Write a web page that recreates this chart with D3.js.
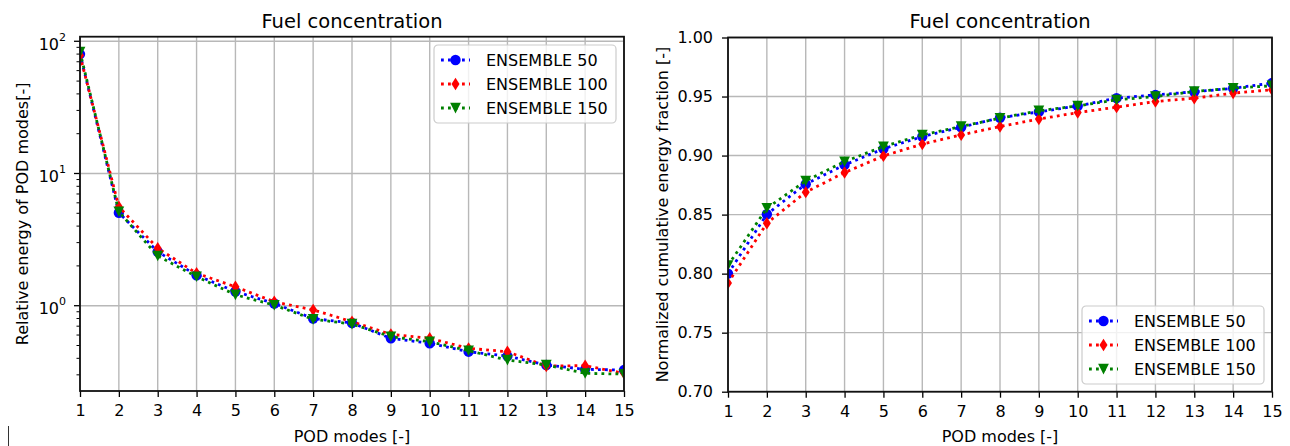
<!DOCTYPE html>
<html lang="en">
<head>
  <meta charset="UTF-8">
  <title>Fuel concentration - POD modes</title>
  <script src="https://d3js.org/d3.v7.min.js"></script>
  <style>
    body {
      margin: 0;
      background: #fff;
      font-family: "DejaVu Sans", sans-serif;
    }
    svg text {
      fill: #000;
    }
  </style>
</head>
<body>
  <svg id="chart" width="1290" height="446"></svg>

  <script>
    // ---- data ----
    const modes = [1, 2, 3, 4, 5, 6, 7, 8, 9, 10, 11, 12, 13, 14, 15];
    const seriesNames = ["ENSEMBLE 50", "ENSEMBLE 100", "ENSEMBLE 150"];

    // relative energy of each POD mode (log axis)
    const energy50  = [80, 5.05, 2.56, 1.70, 1.28, 1.04, 0.80, 0.74, 0.567, 0.52, 0.449, 0.416, 0.356, 0.33, 0.326];
    const energy100 = [78, 5.6, 2.72, 1.76, 1.39, 1.07, 0.93, 0.757, 0.607, 0.567, 0.476, 0.449, 0.35, 0.352, 0.308];
    const energy150 = [83, 5.14, 2.38, 1.66, 1.21, 1.01, 0.79, 0.727, 0.583, 0.534, 0.457, 0.388, 0.356, 0.308, 0.304];

    // normalized cumulative energy fraction
    const cum50  = [0.800, 0.8503, 0.8758, 0.8921, 0.9057, 0.9161, 0.924, 0.932, 0.937, 0.942, 0.9486, 0.9514, 0.954, 0.957, 0.9614];
    const cum100 = [0.792, 0.8427, 0.869, 0.8856, 0.8997, 0.9097, 0.9175, 0.9246, 0.9309, 0.9364, 0.941, 0.9458, 0.9486, 0.9529, 0.9557];
    const cum150 = [0.807, 0.8554, 0.8786, 0.8949, 0.9076, 0.9175, 0.9246, 0.9317, 0.9379, 0.9421, 0.9472, 0.950, 0.9542, 0.9571, 0.9591];

    const xTicks = modes;
    const logMajorTicks = [1, 10, 100];
    const cumTicks = [0.70, 0.75, 0.80, 0.85, 0.90, 0.95, 1.00];

    const colors = ["#0000ff", "#ff0000", "#008000"];
    const shapes = ["circle", "thinDiamond", "triangleDown"];

    const svg = d3.select("#chart");

    // marker paths, centred on 0,0
    function markerPath(shape) {
      if (shape === "circle") return d3.symbol(d3.symbolCircle, Math.PI * 5.2 * 5.2)();
      if (shape === "thinDiamond") return "M0,-6.2L4,0L0,6.2L-4,0Z";
      return "M-5.4,-5.2L5.4,-5.2L0,5.4Z";
    }

    function drawPanel(cfg) {
      const { left, right, top, bottom, id } = cfg;
      const g = svg.append("g");

      const x = d3.scaleLinear().domain([1, 15]).range([left, right]);
      const y = cfg.log
        ? d3.scaleLog().domain(cfg.yDomain).range([bottom, top])
        : d3.scaleLinear().domain(cfg.yDomain).range([bottom, top]);

      // clip region of the axes
      svg.append("clipPath").attr("id", "clip-" + id)
        .append("rect")
        .attr("x", left).attr("y", top)
        .attr("width", right - left).attr("height", bottom - top);

      // grid
      const grid = g.append("g").attr("stroke", "#b8b8b8").attr("stroke-width", 1.4);
      grid.selectAll("line.vx").data(xTicks).enter().append("line")
        .attr("x1", d => x(d)).attr("x2", d => x(d))
        .attr("y1", top).attr("y2", bottom);
      grid.selectAll("line.hy").data(cfg.yTicks).enter().append("line")
        .attr("x1", left).attr("x2", right)
        .attr("y1", d => y(d)).attr("y2", d => y(d));

      // series lines + markers
      const plot = g.append("g").attr("clip-path", `url(#clip-${id})`);
      const line = d3.line().x((d, i) => x(modes[i])).y(d => y(d));
      cfg.series.forEach((vals, k) => {
        plot.append("path")
          .datum(vals)
          .attr("fill", "none")
          .attr("stroke", colors[k])
          .attr("stroke-width", 2.8)
          .attr("stroke-dasharray", "2.8,4.2")
          .attr("d", line);
        plot.selectAll(null).data(vals).enter().append("path")
          .attr("d", markerPath(shapes[k]))
          .attr("fill", colors[k])
          .attr("transform", (d, i) => `translate(${x(modes[i])},${y(d)})`);
      });

      // x axis
      const xAxis = g.append("g")
        .attr("transform", `translate(0,${bottom})`)
        .call(d3.axisBottom(x).tickValues(xTicks).tickSize(6).tickPadding(8).tickFormat(d3.format("d")));
      xAxis.select(".domain").remove();
      xAxis.selectAll(".tick line").attr("stroke", "#000").attr("stroke-width", 1.3);
      xAxis.selectAll("text").attr("font-family", "DejaVu Sans").attr("font-size", 16);

      // y axis
      if (cfg.log) {
        const minor = [];
        [0.1, 1, 10].forEach(b => d3.range(2, 10).forEach(m => {
          const v = b * m;
          if (v >= cfg.yDomain[0] && v <= cfg.yDomain[1]) minor.push(v);
        }));
        g.selectAll("line.minor").data(minor).enter().append("line")
          .attr("x1", left - 3.5).attr("x2", left)
          .attr("y1", d => y(d)).attr("y2", d => y(d))
          .attr("stroke", "#000").attr("stroke-width", 1);
        g.selectAll("line.major").data(logMajorTicks).enter().append("line")
          .attr("x1", left - 6).attr("x2", left)
          .attr("y1", d => y(d)).attr("y2", d => y(d))
          .attr("stroke", "#000").attr("stroke-width", 1.3);
        const lab = g.selectAll("text.ylab").data(logMajorTicks).enter().append("text")
          .attr("x", left - 14)
          .attr("y", d => y(d) + 8.5)
          .attr("text-anchor", "end")
          .attr("font-size", 16);
        lab.append("tspan").text("10");
        lab.append("tspan")
          .attr("font-size", 11)
          .attr("dy", -9)
          .text(d => Math.round(Math.log10(d)));
      } else {
        const yAxis = g.append("g")
          .attr("transform", `translate(${left},0)`)
          .call(d3.axisLeft(y).tickValues(cfg.yTicks).tickSize(6).tickPadding(9).tickFormat(d3.format(".2f")));
        yAxis.select(".domain").remove();
        yAxis.selectAll(".tick line").attr("stroke", "#000").attr("stroke-width", 1.3);
        yAxis.selectAll("text").attr("font-family", "DejaVu Sans").attr("font-size", 16);
      }

      // frame
      g.append("rect")
        .attr("x", left).attr("y", top)
        .attr("width", right - left).attr("height", bottom - top)
        .attr("fill", "none").attr("stroke", "#111").attr("stroke-width", 1.8);

      // title and axis labels
      g.append("text")
        .attr("x", (left + right) / 2).attr("y", 28)
        .attr("text-anchor", "middle").attr("font-size", 19.5)
        .text("Fuel concentration");
      g.append("text")
        .attr("x", (left + right) / 2).attr("y", 442)
        .attr("text-anchor", "middle").attr("font-size", 16)
        .text("POD modes [-]");
      g.append("text")
        .attr("transform", `translate(${cfg.yLabelX},${(top + bottom) / 2}) rotate(-90)`)
        .attr("text-anchor", "middle").attr("font-size", 16)
        .text(cfg.yLabel);

      // legend
      const lg = g.append("g").attr("transform", `translate(${cfg.legend[0]},${cfg.legend[1]})`);
      lg.append("rect")
        .attr("width", 182).attr("height", 78).attr("rx", 4)
        .attr("fill", "#fff").attr("fill-opacity", 0.8)
        .attr("stroke", "#cccccc").attr("stroke-width", 1.2);
      seriesNames.forEach((name, k) => {
        const ry = 15 + k * 24;
        lg.append("line")
          .attr("x1", 7).attr("x2", 36).attr("y1", ry).attr("y2", ry)
          .attr("stroke", colors[k]).attr("stroke-width", 2.8)
          .attr("stroke-dasharray", "2.8,4.2");
        lg.append("path")
          .attr("d", markerPath(shapes[k]))
          .attr("fill", colors[k])
          .attr("transform", `translate(21.5,${ry})`);
        lg.append("text")
          .attr("x", 52).attr("y", ry).attr("dy", "0.36em")
          .attr("font-size", 16)
          .text(name);
      });
    }

    drawPanel({
      id: "energy",
      left: 80, right: 624, top: 36.7, bottom: 391,
      log: true,
      yDomain: [0.2264, 108.3],
      yTicks: logMajorTicks,
      series: [energy50, energy100, energy150],
      yLabel: "Relative energy of POD modes[-]",
      yLabelX: 28,
      legend: [434, 45]
    });

    drawPanel({
      id: "cum",
      left: 728, right: 1272, top: 37.5, bottom: 391.7,
      log: false,
      yDomain: [0.70, 1.00],
      yTicks: cumTicks,
      series: [cum50, cum100, cum150],
      yLabel: "Normalized cumulative energy fraction [-]",
      yLabelX: 668,
      legend: [1082, 306]
    });

    // small mark at the lower left corner of the picture
    svg.append("line")
      .attr("x1", 8.5).attr("x2", 8.5).attr("y1", 426).attr("y2", 446)
      .attr("stroke", "#333").attr("stroke-width", 1);
  </script>
</body>
</html>
